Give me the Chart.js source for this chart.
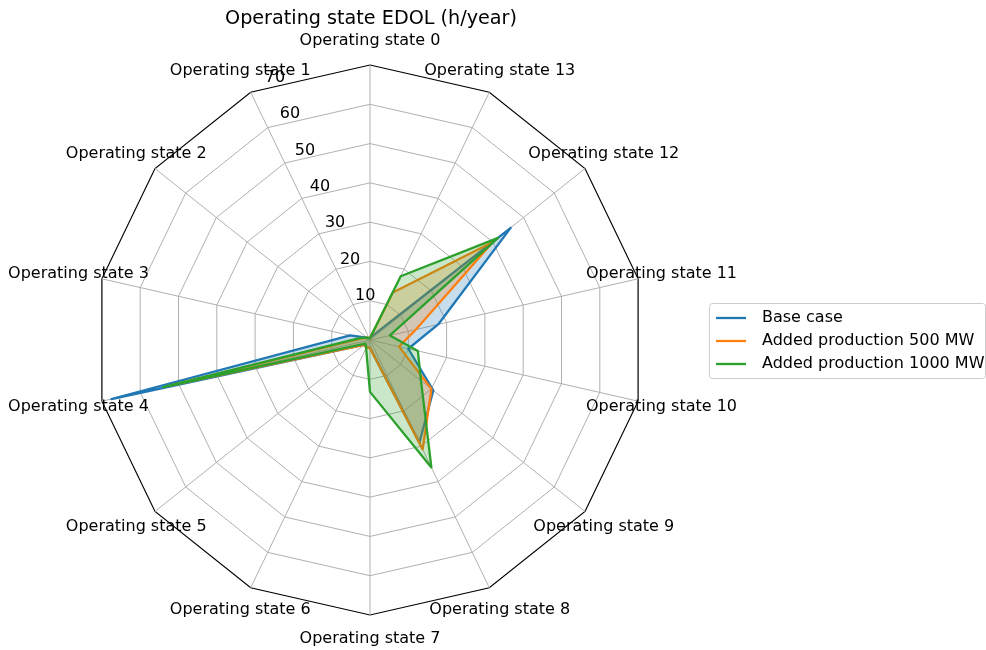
<!DOCTYPE html>
<html>
<head>
<meta charset="utf-8">
<title>Operating state EDOL</title>
<script src="https://cdn.jsdelivr.net/npm/chart.js@4.4.1/dist/chart.umd.min.js"></script>
<style>
  html, body { margin: 0; padding: 0; background: #ffffff; }
  canvas { display: block; }
</style>
</head>
<body>
<canvas id="chart" width="986" height="650"></canvas>
<script>
// Expected duration of overload per operating state, hours per year
const categories = [
  'Operating state 0', 'Operating state 1', 'Operating state 2', 'Operating state 3',
  'Operating state 4', 'Operating state 5', 'Operating state 6', 'Operating state 7',
  'Operating state 8', 'Operating state 9', 'Operating state 10', 'Operating state 11',
  'Operating state 12', 'Operating state 13'
];
const baseCase  = [0.5, 0.5, 1, 5.2, 67.5, 2, 2, 2, 29, 20.6, 10, 17.8, 45.8, 1];
const added500  = [0.5, 0.5, 1, 2, 52, 2, 2, 2.1, 30.9, 20, 7.6, 12, 40, 13.4];
const added1000 = [0.5, 0.5, 1, 2.5, 54, 1.5, 2.3, 13.2, 36, 16.6, 12.5, 5.2, 41.7, 18];
const radialTicks = [10, 20, 30, 40, 50, 60, 70];
const seriesNames = ['Base case', 'Added production 500 MW', 'Added production 1000 MW'];
const seriesColors = ['#1f77b4', '#ff7f0e', '#2ca02c'];
const chartTitle = 'Operating state EDOL (h/year)';

// States run counter-clockwise from the top, the radar scale runs clockwise
const drawOrder = [0, 13, 12, 11, 10, 9, 8, 7, 6, 5, 4, 3, 2, 1];
const arrange = arr => drawOrder.map(i => arr[i]);

const FONT = '"DejaVu Sans", "Liberation Sans", sans-serif';
const LABEL_PX = 16;
const TITLE_PX = 19.2;
const CENTER_X = 370, CENTER_Y = 340, RADIUS = 275;

function fillOf(hex, a) {
  const n = parseInt(hex.slice(1), 16);
  return `rgba(${n >> 16}, ${(n >> 8) & 255}, ${n & 255}, ${a})`;
}

const seriesData = [baseCase, added500, added1000];
const datasets = seriesData.map((vals, i) => ({
  label: seriesNames[i],
  data: arrange(vals),
  borderColor: seriesColors[i],
  backgroundColor: fillOf(seriesColors[i], 0.25),
  borderWidth: 2.3,
  borderJoinStyle: 'round',
  fill: true,
  pointRadius: 0,
  pointHoverRadius: 0,
  order: 3 - i
}));

const radarText = {
  id: 'radarText',
  beforeDatasetsDraw(chart) {
    const s = chart.scales.r;
    const ctx = chart.ctx;
    ctx.save();
    ctx.font = LABEL_PX + 'px ' + FONT;
    ctx.fillStyle = '#000';
    ctx.textAlign = 'left';
    ctx.textBaseline = 'middle';
    const a = (90 + 22.5) * Math.PI / 180;
    radialTicks.forEach(v => {
      const d = s.getDistanceFromCenterForValue(v);
      const x = s.xCenter + Math.cos(a) * d;
      const y = s.yCenter - Math.sin(a) * d;
      ctx.fillText(String(v), x, y - 8);
    });
    ctx.restore();
  },
  afterDraw(chart) {
    const s = chart.scales.r;
    const ctx = chart.ctx;
    ctx.save();
    // category labels
    ctx.font = LABEL_PX + 'px ' + FONT;
    ctx.fillStyle = '#000';
    ctx.textAlign = 'center';
    ctx.textBaseline = 'middle';
    chart.data.labels.forEach((lab, i) => {
      const p = s.getPointPosition(i, s.drawingArea + 24);
      ctx.fillText(lab, p.x, p.y);
    });
    // title
    ctx.font = TITLE_PX + 'px ' + FONT;
    ctx.fillText(chartTitle, CENTER_X + 1, 19);
    // legend
    const bx = 709.5, by = 303.5, bw = 276, bh = 75;
    ctx.fillStyle = 'rgba(255,255,255,0.8)';
    ctx.strokeStyle = '#cccccc';
    ctx.lineWidth = 1;
    ctx.beginPath();
    ctx.roundRect(bx, by, bw, bh, 3);
    ctx.fill();
    ctx.stroke();
    ctx.font = LABEL_PX + 'px ' + FONT;
    ctx.textAlign = 'left';
    chart.data.datasets.forEach((ds, i) => {
      const y = 318 + i * 23;
      ctx.strokeStyle = ds.borderColor;
      ctx.lineWidth = 2.3;
      ctx.beginPath();
      ctx.moveTo(716, y);
      ctx.lineTo(746, y);
      ctx.stroke();
      ctx.fillStyle = '#000';
      ctx.fillText(ds.label, 762, y);
    });
    ctx.restore();
  }
};

new Chart(document.getElementById('chart'), {
  type: 'radar',
  data: { labels: arrange(categories), datasets },
  options: {
    responsive: false,
    devicePixelRatio: 1,
    animation: false,
    events: [],
    layout: { padding: 0 },
    plugins: { legend: { display: false }, title: { display: false }, tooltip: { enabled: false } },
    elements: { line: { tension: 0 } },
    scales: {
      r: {
        min: 0,
        max: 70,
        startAngle: 0,
        ticks: { stepSize: 10, display: false },
        pointLabels: { display: false },
        grid: {
          color: c => (c.tick && c.tick.value === 70) ? '#000000' : '#b0b0b0',
          lineWidth: c => (c.tick && c.tick.value === 70) ? 1.2 : 1
        },
        angleLines: { color: '#b0b0b0', lineWidth: 1 },
        afterFit(scale) {
          scale.xCenter = CENTER_X;
          scale.yCenter = CENTER_Y;
          scale.drawingArea = RADIUS;
        }
      }
    }
  },
  plugins: [radarText]
});
</script>
</body>
</html>
